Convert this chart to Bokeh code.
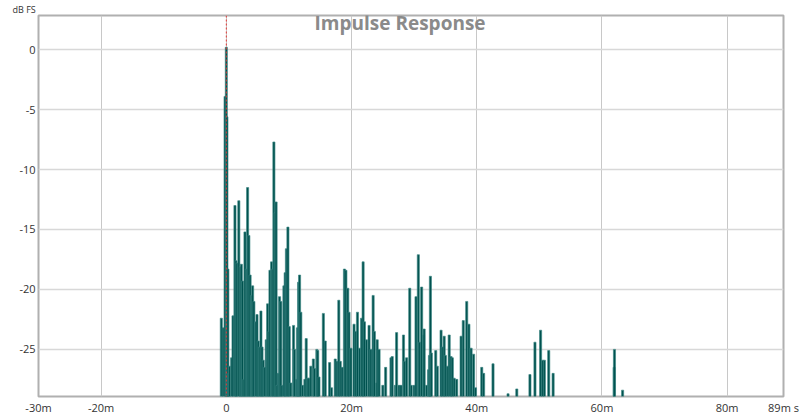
from bokeh.plotting import figure
from bokeh.models import Range1d, FixedTicker, Span, Label, Title, ColumnDataSource
from bokeh.embed import file_html
from bokeh.resources import INLINE

# Impulse response spikes: time (ms) and level (dB FS)
times_ms = [
    -0.8, -0.5, -0.2, 0.0, 0.1, 0.25, 0.4, 0.5, 0.85, 1.07, 1.38, 1.54, 1.7, 2.0,
    2.23, 2.4, 2.6, 2.8, 2.98, 3.2, 3.4, 3.6, 3.8, 4.04, 4.2, 4.4, 4.67, 4.9,
    5.1, 5.3, 5.53, 5.7, 5.9, 6.1, 6.38, 6.6, 6.8, 6.97, 7.23, 7.4, 7.6, 7.8,
    7.95, 8.1, 8.3, 8.5, 8.7, 8.9, 9.2, 9.4, 9.6, 9.84, 10.05, 10.3, 10.74, 10.9,
    11.2, 11.37, 11.54, 11.7, 11.9, 12.2, 12.55, 12.76, 13.0, 13.2, 13.5, 13.9,
    14.1, 14.46, 14.6, 14.8, 15.5, 15.8, 16.5, 16.8, 17.4, 17.7, 17.97, 18.2,
    18.5, 18.87, 19.1, 19.4, 19.6, 19.9, 20.4, 20.7, 20.95, 21.3, 21.6, 21.85,
    22.06, 22.4, 22.8, 23.1, 23.45, 23.65, 24.0, 24.1, 24.4, 25.0, 25.45, 26.3,
    26.5, 27.0, 27.2, 27.6, 27.9, 28.3, 28.5, 28.8, 29.3, 29.55, 30.0, 30.3,
    30.67, 30.9, 31.2, 31.5, 31.6, 32.0, 32.3, 32.45, 32.6, 32.75, 33.45, 33.7,
    34.3, 34.5, 34.8, 35.0, 35.3, 35.6, 35.9, 36.1, 36.4, 36.8, 37.5, 37.85,
    38.4, 38.75, 39.1, 39.5, 39.8, 40.8, 41.1, 42.6, 45.0, 46.4, 48.5, 49.3,
    50.2, 50.5, 50.8, 51.5, 52.2, 61.95, 62.0, 63.3,
]
levels_db = [
    -22.4, -23.2, -3.9, 0.2, -5.6, -18.3, -27.0, -26.4, -25.7, -22.2, -13.0, -17.6, -17.8, -12.6,
    -18.1, -17.9, -19.3, -27.5, -15.2, -18.3, -11.5, -15.5, -18.8, -20.5, -19.7, -21.0, -22.7, -22.1,
    -24.3, -24.8, -21.8, -24.8, -25.9, -26.5, -24.2, -21.2, -23.5, -18.4, -17.7, -18.3, -7.7, -13.6,
    -12.7, -28.0, -27.0, -20.6, -21.0, -28.0, -19.7, -18.6, -16.6, -14.8, -23.1, -27.8, -23.0, -25.0,
    -27.5, -23.2, -19.4, -18.8, -21.9, -28.0, -27.5, -24.1, -27.4, -27.4, -26.4, -25.8,
    -26.6, -25.0, -25.1, -27.3, -22.0, -24.3, -26.1, -28.2, -25.8, -26.0, -20.9, -26.0,
    -26.5, -18.3, -18.4, -19.9, -21.9, -24.9, -22.9, -23.5, -21.9, -24.9, -22.4, -17.7,
    -22.7, -24.2, -23.0, -25.0, -20.5, -23.5, -27.8, -24.2, -25.0, -28.0, -26.5, -25.7,
    -25.6, -28.0, -23.6, -28.0, -28.0, -23.8, -26.0, -25.7, -19.9, -28.0, -28.0, -20.6,
    -17.1, -24.4, -19.8, -23.8, -23.3, -28.0, -26.7, -25.5, -18.9, -25.3, -25.1, -26.4,
    -23.4, -24.8, -23.9, -25.5, -26.4, -23.8, -25.6, -25.7, -27.4, -27.5, -23.9, -22.6,
    -21.0, -22.9, -24.9, -25.4, -28.2, -26.5, -27.0, -26.2, -28.7, -28.3, -27.1, -24.4,
    -23.4, -25.9, -25.9, -25.1, -27.0, -26.5, -25.0, -28.4,
]

x_ticks = [-30, -20, 0, 20, 40, 60, 80, 89]
x_tick_labels = ["-30m", "-20m", "0", "20m", "40m", "60m", "80m", "89m s"]
x_grid = [-20, 0, 20, 40, 60, 80]
y_ticks = [-25, -20, -15, -10, -5, 0]
y_tick_labels = ["-25", "-20", "-15", "-10", "-5", "0"]

Y_MIN, Y_MAX = -28.93, 2.85

src = ColumnDataSource(dict(t=times_ms, db=levels_db))

p = figure(width=800, height=417, output_backend="svg", toolbar_location=None,
           x_range=Range1d(-30, 89), y_range=Range1d(Y_MIN, Y_MAX),
           min_border_left=38, min_border_right=17, min_border_top=11, min_border_bottom=18)
p.background_fill_color = "white"
p.border_fill_color = "white"
p.outline_line_color = "#b0b0b0"
p.outline_line_width = 2

p.vbar(x="t", top="db", bottom=-30, width=0.34, source=src,
       fill_color="#00524f", line_color="#3d8784", line_width=0.8, line_alpha=0.8)

p.add_layout(Span(location=0, dimension="height", line_color="#e53935",
                  line_dash="2 2", line_width=1))

p.xaxis.ticker = FixedTicker(ticks=x_ticks)
p.xaxis.major_label_overrides = dict(zip(x_ticks, x_tick_labels))
p.yaxis.ticker = FixedTicker(ticks=y_ticks)
p.yaxis.major_label_overrides = dict(zip(y_ticks, y_tick_labels))
p.xgrid.ticker = FixedTicker(ticks=x_grid)
p.ygrid.ticker = FixedTicker(ticks=y_ticks)
p.xgrid.grid_line_color = "#c8c8c8"
p.xgrid.grid_line_width = 1
p.ygrid.grid_line_color = "#d8d8d8"
p.ygrid.grid_line_width = 1.5

for ax in (p.xaxis[0], p.yaxis[0]):
    ax.axis_line_color = None
    ax.major_tick_line_color = None
    ax.minor_tick_line_color = None
    ax.major_tick_out = 0
    ax.major_tick_in = 0
    ax.minor_tick_out = 0
    ax.minor_tick_in = 0
    ax.major_label_text_font = "Open Sans"
    ax.major_label_text_font_size = "11px"
    ax.major_label_text_color = "#333333"
    ax.major_label_standoff = 3

p.add_layout(Label(x=27.75, y=Y_MAX, y_offset=6, text="Impulse Response",
                   text_align="center", text_baseline="top",
                   text_font="Open Sans", text_font_style="bold",
                   text_font_size="19px", text_color="#8a8a8a"))

p.add_layout(Title(text="dB FS", align="left", offset=-26, standoff=0,
                   text_font="Open Sans", text_font_style="normal",
                   text_font_size="9px", text_color="#333333"), "above")

open("out.html", "w").write(file_html(p, INLINE))
